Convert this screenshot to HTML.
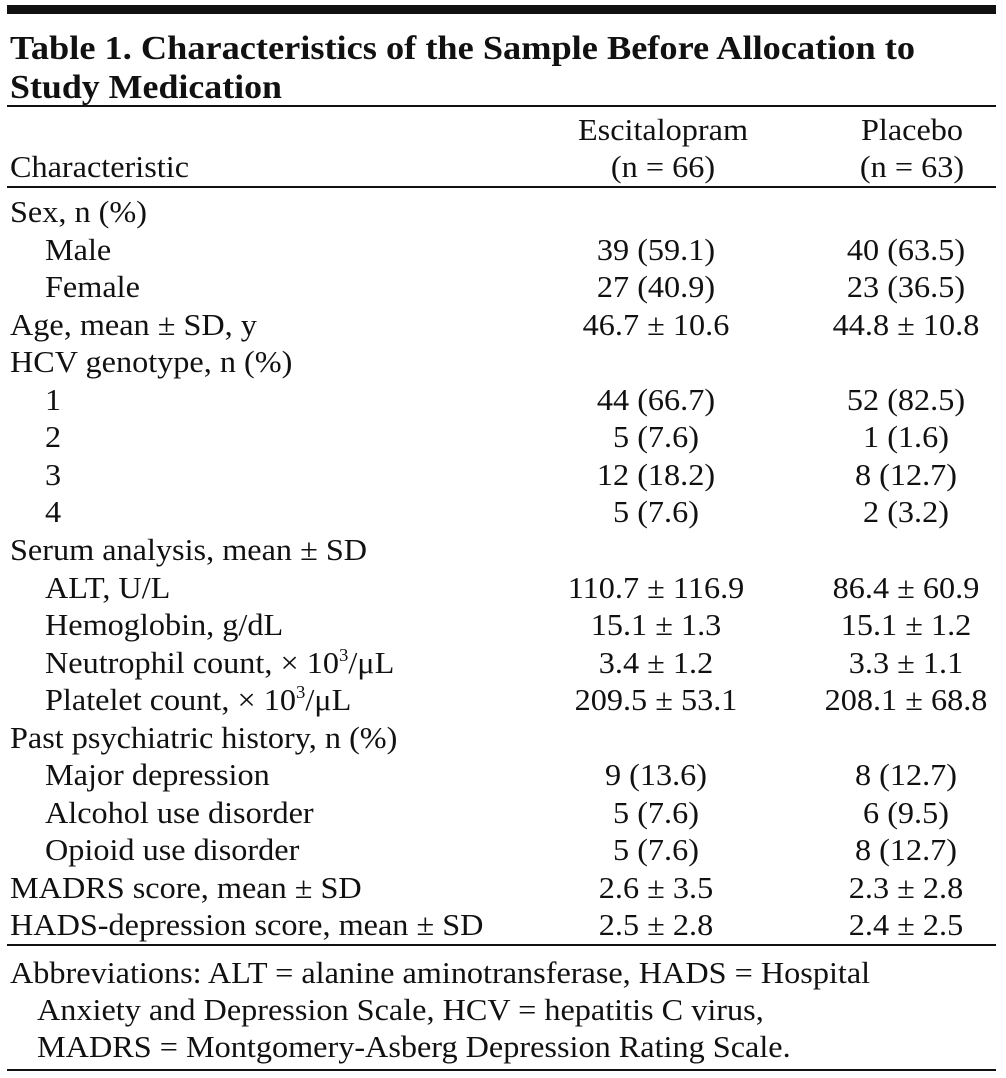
<!DOCTYPE html>
<html><head><meta charset="utf-8">
<style>
html,body{margin:0;padding:0;background:#fff;}
body{width:1006px;height:1078px;position:relative;overflow:hidden;font-family:"Liberation Serif",serif;color:#111;}
.r{position:absolute;background:#111;}
.t{position:absolute;white-space:nowrap;font-size:31px;line-height:38px;height:38px;transform:scaleX(1.04);transform-origin:left top;}
.t.cen{transform-origin:center top;}
.title{position:absolute;left:10px;white-space:nowrap;font-weight:bold;font-size:34px;line-height:40px;transform-origin:left top;}
sup{font-size:18px;line-height:0;vertical-align:12px;}
</style></head><body>
<div class="r" style="left:7px;top:5px;width:989px;height:9px"></div>
<div class="title fit" data-w="905" style="top:29px">Table 1. Characteristics of the Sample Before Allocation to</div>
<div class="title fit" data-w="272" style="top:68px">Study Medication</div>
<div class="r" style="left:7px;top:105px;width:989px;height:2px"></div>

<div class="t" style="left:10px;top:148px">Characteristic</div>
<div class="t cen" style="left:563px;width:200px;text-align:center;top:111px">Escitalopram</div>
<div class="t cen" style="left:563px;width:200px;text-align:center;top:148px">(n = 66)</div>
<div class="t cen" style="left:812px;width:200px;text-align:center;top:111px">Placebo</div>
<div class="t cen" style="left:812px;width:200px;text-align:center;top:148px">(n = 63)</div>
<div class="r" style="left:7px;top:186px;width:989px;height:2px"></div>

<div id="rows"></div>

<div class="r" style="left:7px;top:944px;width:989px;height:2px"></div>
<div class="t" style="left:10px;top:954px">Abbreviations: ALT = alanine aminotransferase, HADS = Hospital</div>
<div class="t" style="left:37px;top:991px">Anxiety and Depression Scale, HCV = hepatitis C virus,</div>
<div class="t" style="left:37px;top:1028px">MADRS = Montgomery-Asberg Depression Rating Scale.</div>
<div class="r" style="left:7px;top:1069px;width:989px;height:2px"></div>

<script>
const labels=["Sex, n (%)","Male","Female","Age, mean ± SD, y","HCV genotype, n (%)","1","2","3","4","Serum analysis, mean ± SD","ALT, U/L","Hemoglobin, g/dL","Neutrophil count, × 10<sup>3</sup>/μL","Platelet count, × 10<sup>3</sup>/μL","Past psychiatric history, n (%)","Major depression","Alcohol use disorder","Opioid use disorder","MADRS score, mean ± SD","HADS-depression score, mean ± SD"];
const indent=[0,1,1,0,0,1,1,1,1,0,1,1,1,1,0,1,1,1,0,0];
const escValues=["","39 (59.1)","27 (40.9)","46.7 ± 10.6","","44 (66.7)","5 (7.6)","12 (18.2)","5 (7.6)","","110.7 ± 116.9","15.1 ± 1.3","3.4 ± 1.2","209.5 ± 53.1","","9 (13.6)","5 (7.6)","5 (7.6)","2.6 ± 3.5","2.5 ± 2.8"];
const plaValues=["","40 (63.5)","23 (36.5)","44.8 ± 10.8","","52 (82.5)","1 (1.6)","8 (12.7)","2 (3.2)","","86.4 ± 60.9","15.1 ± 1.2","3.3 ± 1.1","208.1 ± 68.8","","8 (12.7)","6 (9.5)","8 (12.7)","2.3 ± 2.8","2.4 ± 2.5"];
const host=document.getElementById('rows');
labels.forEach((lab,i)=>{
  const top=193+i*37.55;
  const a=document.createElement('div');a.className='t';
  
  
  a.style.left=(indent[i]?45:10)+'px';a.style.top=top+'px';a.innerHTML=lab;host.appendChild(a);
  const b=document.createElement('div');b.className='t cen';
  
  
  b.style.left='556px';b.style.width='200px';b.style.textAlign='center';b.style.top=top+'px';b.textContent=escValues[i];host.appendChild(b);
  const c=document.createElement('div');c.className='t cen';
  
  
  c.style.left='806px';c.style.width='200px';c.style.textAlign='center';c.style.top=top+'px';c.textContent=plaValues[i];host.appendChild(c);
});
document.querySelectorAll('.fit').forEach(el=>{
  const w=el.getBoundingClientRect().width;const tw=+el.dataset.w;
  el.style.transform='scaleX('+(tw/w)+')';
});
</script>
</body></html>
